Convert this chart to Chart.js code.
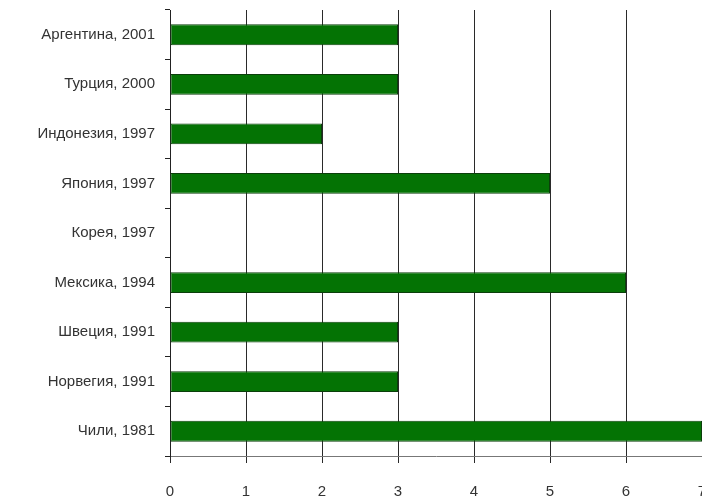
<!DOCTYPE html>
<html>
<head>
<meta charset="utf-8">
<script src="https://cdn.jsdelivr.net/npm/chart.js@4/dist/chart.umd.min.js"></script>
<style>
  html, body { margin: 0; padding: 0; background: #fff; }
  #wrap { width: 702px; height: 499px; }
</style>
</head>
<body>
<div id="wrap"><canvas id="chart" width="702" height="499"></canvas></div>
<script>
// categories, top to bottom
const countries = [
  'Аргентина, 2001',
  'Турция, 2000',
  'Индонезия, 1997',
  'Япония, 1997',
  'Корея, 1997',
  'Мексика, 1994',
  'Швеция, 1991',
  'Норвегия, 1991',
  'Чили, 1981'
];
const values = [3, 3, 2, 5, 0, 6, 3, 3, 7];
const xTicks = [0, 1, 2, 3, 4, 5, 6, 7];

const labelFont = { family: '"Liberation Sans", Arial, sans-serif', size: 15 };

new Chart('chart', {
  type: 'bar',
  data: {
    labels: countries,
    datasets: [{
      data: values,
      backgroundColor: '#047304',
      borderColor: '#0b3f0b',
      borderWidth: 1,
      borderSkipped: false,
      barPercentage: 0.42,
      categoryPercentage: 1
    }]
  },
  options: {
    indexAxis: 'y',
    responsive: false,
    animation: false,
    layout: { padding: { top: 10, left: 0, right: 0, bottom: 0 } },
    plugins: { legend: { display: false }, tooltip: { enabled: false } },
    scales: {
      x: {
        min: 0,
        max: 7,
        afterBuildTicks: axis => { axis.ticks = xTicks.map(v => ({ value: v })); },
        afterFit: axis => { axis.paddingRight = 0; axis.paddingLeft = 0; axis.height = 43; },
        ticks: { color: '#333', font: labelFont, padding: 20 },
        grid: { color: '#2a2a2a', lineWidth: 1, tickLength: 7, drawTicks: true },
        border: { color: '#777', width: 1 }
      },
      y: {
        afterFit: axis => { axis.width = 170; axis.paddingTop = 0; axis.paddingBottom = 0; },
        ticks: { color: '#333', font: labelFont, padding: 10 },
        grid: { drawOnChartArea: false, color: '#222', tickLength: 5 },
        border: { color: '#222', width: 1 }
      }
    }
  }
});
</script>
</body>
</html>
